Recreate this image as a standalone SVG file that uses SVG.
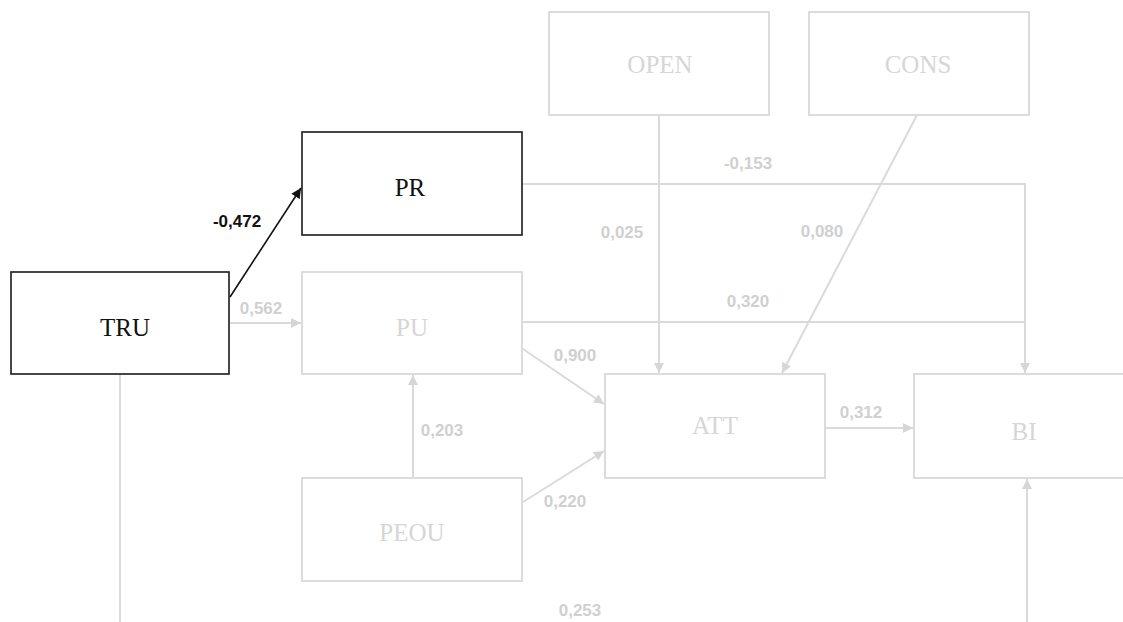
<svg xmlns="http://www.w3.org/2000/svg" width="1123" height="622" viewBox="0 0 1123 622">
  <style>
    .box { fill: #ffffff; stroke: #dcdcdc; stroke-width: 2; }
    .box.on { stroke: #1a1a1a; stroke-width: 1.6; }
    .name { font-family: "Liberation Serif", "Times New Roman", serif; font-size: 25px; fill: #d6d6d6; text-anchor: middle; dominant-baseline: central; }
    .name.on { fill: #111111; }
    .edge { fill: none; stroke: #dadada; stroke-width: 2; }
    .edge.on { stroke: #111111; stroke-width: 1.6; }
    .coef { font-family: "Liberation Sans", Arial, sans-serif; font-size: 17px; font-weight: bold; fill: #d0d0d0; text-anchor: middle; dominant-baseline: central; }
    .coef.on { fill: #111111; }
  </style>
  <defs>
    <marker id="head" viewBox="0 0 10 10" refX="10" refY="5" markerWidth="11" markerHeight="10" markerUnits="userSpaceOnUse" orient="auto">
      <path d="M0,0 L10,5 L0,10 z" fill="#d6d6d6"/>
    </marker>
    <marker id="headOn" viewBox="0 0 10 10" refX="10" refY="5" markerWidth="11" markerHeight="10" markerUnits="userSpaceOnUse" orient="auto">
      <path d="M0,0 L10,5 L0,10 z" fill="#111111"/>
    </marker>
  </defs>
  <rect width="1123" height="622" fill="#ffffff"/>

  <g id="connectors">
    <path class="edge" d="M120,374 V622"/>
    <path class="edge" d="M1027,622 V479" marker-end="url(#head)"/>
    <path class="edge" d="M230,323 H301" marker-end="url(#head)"/>
    <path class="edge" d="M413,478 V375" marker-end="url(#head)"/>
    <path class="edge" d="M523,349 L604,404" marker-end="url(#head)"/>
    <path class="edge" d="M523,502 L604,451" marker-end="url(#head)"/>
    <path class="edge" d="M659,115 V373" marker-end="url(#head)"/>
    <path class="edge" d="M917,115 L782,373" marker-end="url(#head)"/>
    <path class="edge" d="M522,184 H1025 V373" marker-end="url(#head)"/>
    <path class="edge" d="M522,322 H1025"/>
    <path class="edge" d="M825,428 H913" marker-end="url(#head)"/>
    <path class="edge on" d="M230,297 L301,188" marker-end="url(#headOn)"/>

    <text class="coef on" x="237" y="221">-0,472</text>
    <text class="coef" x="261" y="308">0,562</text>
    <text class="coef" x="442" y="430">0,203</text>
    <text class="coef" x="575" y="355">0,900</text>
    <text class="coef" x="565" y="501">0,220</text>
    <text class="coef" x="580" y="610">0,253</text>
    <text class="coef" x="622" y="232">0,025</text>
    <text class="coef" x="822" y="231">0,080</text>
    <text class="coef" x="748" y="163">-0,153</text>
    <text class="coef" x="748" y="301">0,320</text>
    <text class="coef" x="861" y="412">0,312</text>
  </g>

  <g id="OPEN">
    <rect class="box" x="549" y="12" width="220" height="103"/>
    <text class="name" x="660" y="64">OPEN</text>
  </g>
  <g id="CONS">
    <rect class="box" x="809" y="12" width="220" height="103"/>
    <text class="name" x="918" y="64">CONS</text>
  </g>
  <g id="PR">
    <rect class="box on" x="302" y="132" width="220" height="103"/>
    <text class="name on" x="410" y="187">PR</text>
  </g>
  <g id="TRU">
    <rect class="box on" x="11" y="272" width="218" height="102"/>
    <text class="name on" x="125" y="327">TRU</text>
  </g>
  <g id="PU">
    <rect class="box" x="302" y="272" width="220" height="102"/>
    <text class="name" x="412" y="327">PU</text>
  </g>
  <g id="PEOU">
    <rect class="box" x="302" y="478" width="220" height="103"/>
    <text class="name" x="412" y="532">PEOU</text>
  </g>
  <g id="ATT">
    <rect class="box" x="605" y="374" width="220" height="104"/>
    <text class="name" x="715" y="425">ATT</text>
  </g>
  <g id="BI">
    <rect class="box" x="914" y="374" width="220" height="104"/>
    <text class="name" x="1024" y="431">BI</text>
  </g>
</svg>
